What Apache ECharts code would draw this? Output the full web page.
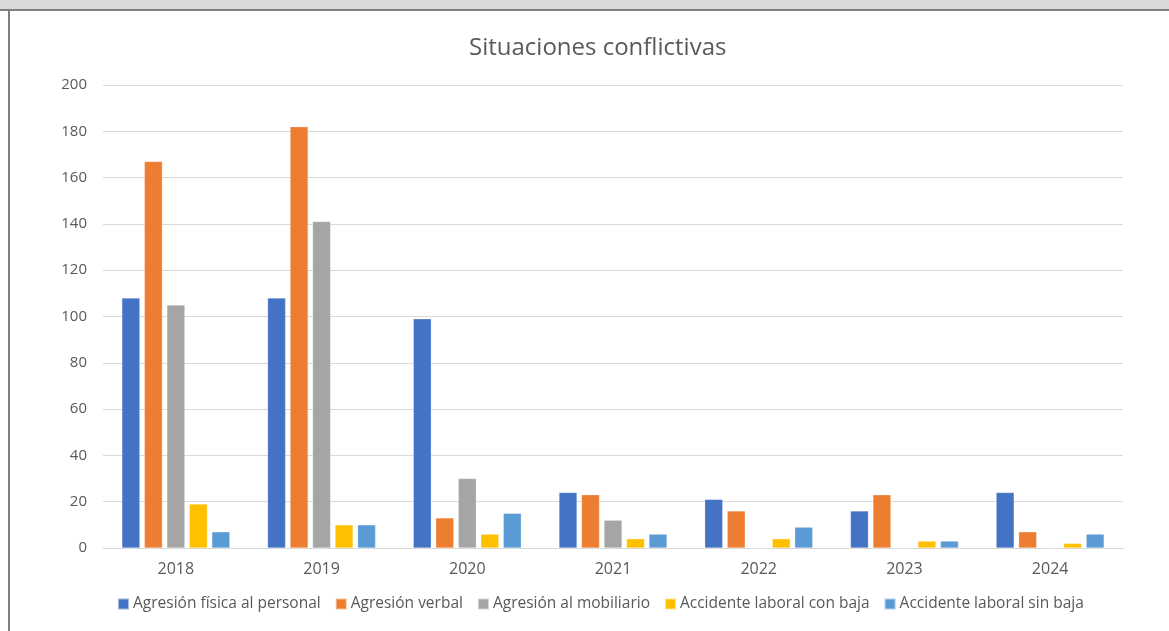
<!DOCTYPE html>
<html>
<head>
<meta charset="utf-8">
<script src="https://cdn.jsdelivr.net/npm/echarts@6/dist/echarts.min.js"></script>
<style>
  html, body { margin: 0; padding: 0; background: #fff; }
  #chart { width: 1169px; height: 631px; }
</style>
</head>
<body>
<div id="chart"></div>
<script>
const years = ['2018', '2019', '2020', '2021', '2022', '2023', '2024'];
const agresionFisica = [108, 108, 99, 24, 21, 16, 24];
const agresionVerbal = [167, 182, 13, 23, 16, 23, 7];
const agresionMobiliario = [105, 141, 30, 12, 0, 0, 0];
const accidenteConBaja = [19, 10, 6, 4, 4, 3, 2];
const accidenteSinBaja = [7, 10, 15, 6, 9, 3, 6];

const font = 'Open Sans';
const textColor = '#595959';

const mkSeries = (name, data, color) => ({
  name: name,
  type: 'bar',
  data: data,
  barWidth: 18,
  barGap: '25%',
  itemStyle: { color: color, borderColor: 'rgba(255,255,255,0.5)', borderWidth: 0.5 }
});

const chart = echarts.init(document.getElementById('chart'));
chart.setOption({
  animation: false,
  textStyle: { fontFamily: font },
  title: {
    text: 'Situaciones conflictivas',
    left: 464,
    top: 31,
    textStyle: { fontFamily: font, fontSize: 24, fontWeight: 'normal', color: textColor }
  },
  legend: {
    bottom: 14,
    left: 112,
    itemWidth: 11,
    itemHeight: 11,
    itemGap: 14,
    icon: 'rect',
    textStyle: { fontFamily: font, fontSize: 15.5, color: textColor, padding: [0, 0, 0, -1] }
  },
  grid: { left: 103, right: 46, top: 85, bottom: 83 },
  xAxis: {
    type: 'category',
    data: years,
    axisLine: { lineStyle: { color: '#d9d9d9' } },
    axisTick: { show: false },
    axisLabel: { fontSize: 16, color: textColor, margin: 13 }
  },
  yAxis: {
    type: 'value',
    min: 0,
    max: 200,
    interval: 20,
    axisLine: { show: false },
    axisTick: { show: false },
    splitLine: { lineStyle: { color: '#d9d9d9' } },
    axisLabel: { fontSize: 15, color: textColor, margin: 16 }
  },
  graphic: [
    { type: 'rect', left: 0, top: 0, shape: { width: 1169, height: 9 }, style: { fill: '#d9d9d9' } },
    { type: 'rect', left: 0, top: 9, shape: { width: 1169, height: 2 }, style: { fill: '#7f7f7f' } },
    { type: 'rect', left: 8, top: 9, shape: { width: 2, height: 622 }, style: { fill: '#7f7f7f' } }
  ],
  series: [
    mkSeries('Agresión física al personal', agresionFisica, '#4472c4'),
    mkSeries('Agresión verbal', agresionVerbal, '#ed7d31'),
    mkSeries('Agresión al mobiliario', agresionMobiliario, '#a5a5a5'),
    mkSeries('Accidente laboral con baja', accidenteConBaja, '#ffc000'),
    mkSeries('Accidente laboral sin baja', accidenteSinBaja, '#5b9bd5')
  ]
});
window.addEventListener('resize', () => chart.resize());
</script>
</body>
</html>
